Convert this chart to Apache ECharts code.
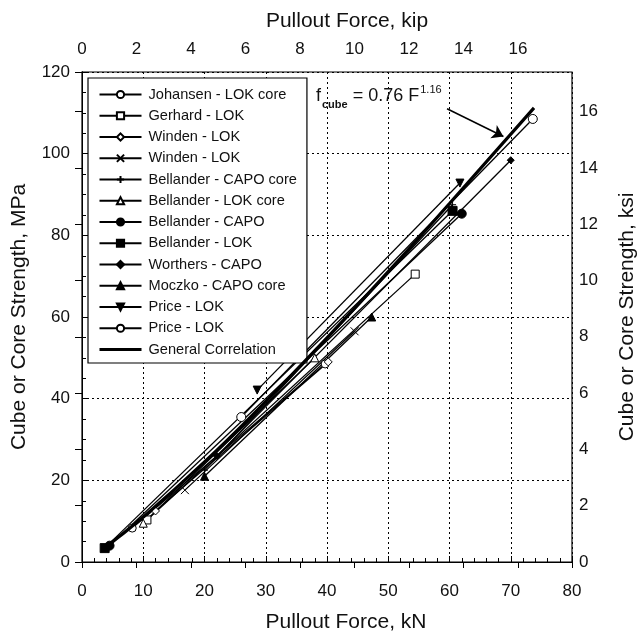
<!DOCTYPE html>
<html>
<head>
<meta charset="utf-8">
<script src="https://cdn.jsdelivr.net/npm/echarts@6/dist/echarts.min.js"></script>
<style>html,body{margin:0;padding:0;background:#fff}#c{width:639px;height:633px}</style>
</head>
<body>
<div id="c"></div>
<script>
// ---- data (kN, MPa) ----
const johansenLokCore   = [[8.2, 8.3], [39.7, 48.5]];
const gerhardLok        = [[10.6, 10.3], [54.4, 70.5]];
const windenLokDiamond  = [[12.0, 12.5], [40.2, 49.0]];
const windenLokCross    = [[16.8, 17.6], [44.5, 56.5]];
const bellanderCapoCore = [[20.0, 22.5], [60.5, 87.5]];
const bellanderLokCore  = [[10.0, 9.5], [38.0, 50.0]];
const bellanderCapo     = [[4.5, 4.0], [62.0, 85.3]];
const bellanderLok      = [[3.7, 3.4], [60.5, 86.0]];
const worthersCapo      = [[22.0, 26.0], [70.0, 98.4]];
const moczkoCapoCore    = [[20.0, 21.0], [47.3, 60.0]];
const priceLokDown      = [[28.6, 42.1], [61.7, 92.8]];
const priceLokCircle    = [[26.0, 35.5], [73.6, 108.5]];
const generalCorrelation = [[3.7, 3.5], [10, 11.0], [20, 24.5], [30, 39.3], [40, 54.9], [50, 71.1], [60, 87.8], [73.8, 111.2]];
const arrowFrom = [59.6, 111.0];
const arrowTo   = [68.8, 104.2];

const KIP = 4.448222;   // kN per kip
const KSI = 6.894757;   // MPa per ksi

const FONT = "'Liberation Sans', Arial, sans-serif";
const INK = '#111';

const SYM = {
  cross: 'path://M0,0L10,10M10,0L0,10',
  plus: 'path://M5,0L5,10M0,5L10,5',
  down: 'path://M0,0L10,0L5,10Z'
};

function s(name, data, symbol, open, size, extra) {
  return Object.assign({
    name: name, type: 'line', data: data,
    symbol: symbol, symbolSize: size || 7,
    showSymbol: true,
    lineStyle: {color: '#000', width: 1.3},
    itemStyle: open ? {color: '#fff', borderColor: '#000', borderWidth: 1} : {color: '#000', borderColor: '#000', borderWidth: 1},
    animation: false, z: 3
  }, extra || {});
}

const series = [
  s('Johansen - LOK core', johansenLokCore, 'circle', true, 8),
  s('Gerhard - LOK', gerhardLok, 'rect', true, 8),
  s('Winden - LOK', windenLokDiamond, 'diamond', true, 8),
  s('Winden - LOK ', windenLokCross, SYM.cross, true, 8),
  s('Bellander - CAPO core', bellanderCapoCore, SYM.plus, true, 7),
  s('Bellander - LOK core', bellanderLokCore, 'triangle', true, 8),
  s('Bellander - CAPO', bellanderCapo, 'circle', false, 9),
  s('Bellander - LOK', bellanderLok, 'rect', false, 9),
  s('Worthers - CAPO', worthersCapo, 'diamond', false, 7),
  s('Moczko - CAPO core', moczkoCapoCore, 'triangle', false, 8),
  s('Price - LOK', priceLokDown, SYM.down, false, 8),
  s('Price - LOK ', priceLokCircle, 'circle', true, 9),
  s('General Correlation', generalCorrelation, 'none', false, 1, {
    showSymbol: false,
    lineStyle: {color: '#000', width: 3.2}, smooth: true, z: 4,
    markLine: {
      silent: true, symbol: ['none', 'arrow'], symbolSize: 11,
      lineStyle: {color: '#000', width: 1.5, type: 'solid'},
      label: {show: false},
      data: [[{coord: arrowFrom}, {coord: arrowTo}]]
    }
  })
];

const legendData = series.map(x => x.name === 'General Correlation'
  ? {name: x.name, itemStyle: {opacity: 0}, lineStyle: {width: 3, color: '#000'}}
  : {name: x.name});

const chart = echarts.init(document.getElementById('c'), null, {renderer: 'canvas'});
const labelStyle = {color: INK, fontSize: 17, fontFamily: FONT};
const nameStyle = {color: INK, fontSize: 21, fontFamily: FONT};
const dotted = {show: true, lineStyle: {color: '#000', type: [2, 3], width: 1}};
const evenFmt = v => (Math.abs(v / 2 - Math.round(v / 2)) < 1e-6 ? String(Math.round(v)) : '');

chart.setOption({
  animation: false,
  backgroundColor: '#fff',
  textStyle: {fontFamily: FONT},
  grid: {left: 82, right: 67, top: 72, bottom: 71, show: true, borderColor: '#000', borderWidth: 1.2,
         backgroundColor: 'transparent', containLabel: false, outerBoundsMode: 'none'},
  legend: {
    orient: 'vertical', left: 88, top: 78,
    backgroundColor: '#fff', borderColor: '#000', borderWidth: 1.2,
    padding: [9, 10, 6, 10], itemGap: 6.25,
    itemWidth: 42, itemHeight: 9,
    textStyle: {color: INK, fontSize: 14.6, lineHeight: 15, fontFamily: FONT, padding: [0, 0, 0, 2]},
    data: legendData
  },
  xAxis: [
    {
      type: 'value', position: 'bottom', min: 0, max: 80, interval: 10,
      name: 'Pullout Force, kN', nameLocation: 'middle', nameGap: 50,
      nameTextStyle: Object.assign({padding: [0, 0, 0, 38]}, nameStyle),
      axisLine: {show: true, lineStyle: {color: '#000'}},
      axisTick: {show: true, inside: true, length: 6, lineStyle: {color: '#000'}},
      minorTick: {show: true, splitNumber: 5, length: 4, lineStyle: {color: '#000'}},
      axisLabel: Object.assign({margin: 21}, labelStyle),
      splitLine: dotted
    },
    {
      type: 'value', position: 'top', min: 0, max: 80 / KIP, interval: 2,
      name: 'Pullout Force, kip', nameLocation: 'middle', nameGap: 40,
      nameTextStyle: Object.assign({padding: [0, 0, 0, 40]}, nameStyle),
      axisLine: {show: true, lineStyle: {color: '#000'}},
      axisTick: {show: true, inside: true, length: 6, lineStyle: {color: '#000'}},
      axisLabel: Object.assign({margin: 14, formatter: evenFmt}, labelStyle),
      splitLine: {show: false}
    }
  ],
  yAxis: [
    {
      type: 'value', position: 'left', min: 0, max: 120, interval: 20,
      name: 'Cube or Core Strength, MPa', nameLocation: 'middle', nameGap: 52,
      nameTextStyle: nameStyle,
      axisLine: {show: true, lineStyle: {color: '#000'}},
      axisTick: {show: true, inside: true, length: 6, lineStyle: {color: '#000'}},
      minorTick: {show: true, splitNumber: 4, length: 4, lineStyle: {color: '#000'}},
      axisLabel: Object.assign({margin: 12}, labelStyle),
      splitLine: dotted
    },
    {
      type: 'value', position: 'right', min: 0, max: 120 / KSI, interval: 2,
      name: 'Cube or Core Strength, ksi', nameLocation: 'middle', nameGap: 45, nameRotate: 90,
      nameTextStyle: nameStyle,
      axisLine: {show: true, lineStyle: {color: '#000'}},
      axisTick: {show: true, inside: true, length: 7, lineStyle: {color: '#000'}},
      axisLabel: Object.assign({margin: 7, formatter: evenFmt}, labelStyle),
      splitLine: {show: false}
    }
  ],
  graphic: [{
    type: 'text', left: 316, top: 84, z: 10,
    style: {
      text: '{f|f}{sub|cube}{eq| = 0.76 F}{sup|1.16}',
      rich: {
        f: {fontSize: 18, fontFamily: FONT, fill: INK},
        sub: {fontSize: 11, fontWeight: 'bold', fontFamily: FONT, fill: INK, padding: [16, 0, 0, 1]},
        eq: {fontSize: 18, fontFamily: FONT, fill: INK},
        sup: {fontSize: 11, fontFamily: FONT, fill: INK, padding: [0, 0, 14, 1]}
      }
    }
  }],
  series: series
});
</script>
</body>
</html>
